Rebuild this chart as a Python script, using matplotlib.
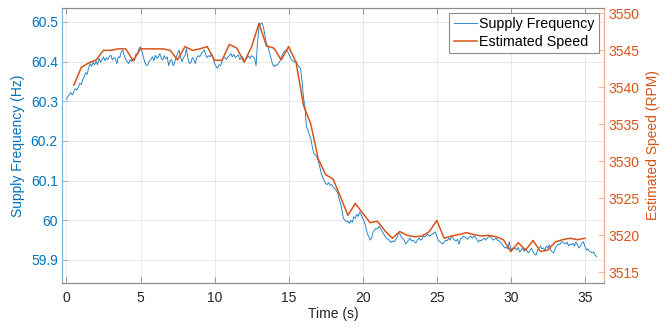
import numpy as np
import matplotlib.pyplot as plt

plt.rcParams['font.family'] = ['Liberation Sans', 'DejaVu Sans']

# supply frequency, sampled every 0.1 s from t = 0
freq = [
    60.305, 60.312, 60.318, 60.322, 60.316, 60.325, 60.332, 60.328, 60.336, 60.345,
    60.342, 60.355, 60.362, 60.372, 60.368, 60.385, 60.395, 60.388, 60.398, 60.392,
    60.401, 60.392, 60.408, 60.398, 60.405, 60.412, 60.402, 60.410, 60.405, 60.413,
    60.416, 60.404, 60.410, 60.408, 60.395, 60.412, 60.410, 60.424, 60.429, 60.415,
    60.406, 60.400, 60.395, 60.405, 60.400, 60.408, 60.403, 60.420, 60.418, 60.433,
    60.437, 60.425, 60.410, 60.397, 60.390, 60.392, 60.402, 60.405, 60.412, 60.402,
    60.416, 60.408, 60.412, 60.420, 60.408, 60.404, 60.415, 60.407, 60.412, 60.390,
    60.402, 60.405, 60.390, 60.398, 60.410, 60.420, 60.429, 60.412, 60.400, 60.410,
    60.415, 60.433, 60.408, 60.395, 60.398, 60.410, 60.405, 60.395, 60.410, 60.415,
    60.412, 60.420, 60.424, 60.430, 60.418, 60.410, 60.415, 60.412, 60.420, 60.408,
    60.395, 60.388, 60.383, 60.392, 60.390, 60.400, 60.412, 60.410, 60.405, 60.412,
    60.415, 60.420, 60.412, 60.418, 60.410, 60.414, 60.416, 60.405, 60.410, 60.412,
    60.400, 60.405, 60.410, 60.414, 60.408, 60.415, 60.412, 60.408, 60.390, 60.450,
    60.487, 60.495, 60.497, 60.487, 60.466, 60.445, 60.438, 60.424, 60.410, 60.395,
    60.387, 60.392, 60.390, 60.395, 60.400, 60.410, 60.420, 60.425, 60.429, 60.427,
    60.420, 60.412, 60.404, 60.402, 60.398, 60.400, 60.392, 60.387, 60.383, 60.353,
    60.310, 60.286, 60.236, 60.227, 60.215, 60.205, 60.185, 60.168, 60.165, 60.160,
    60.150, 60.135, 60.118, 60.108, 60.100, 60.093, 60.090, 60.095, 60.088, 60.090,
    60.084, 60.080, 60.076, 60.070, 60.055, 60.043, 60.025, 60.005, 60.000, 59.996,
    59.998, 59.992, 60.000, 59.995, 60.009, 60.005, 60.015, 60.010, 60.021, 60.015,
    60.005, 59.996, 59.985, 59.967, 59.960, 59.950, 59.955, 59.970, 59.975, 59.980,
    59.978, 59.985, 59.980, 59.972, 59.967, 59.960, 59.955, 59.952, 59.950, 59.944,
    59.948, 59.945, 59.950, 59.955, 59.965, 59.967, 59.958, 59.955, 59.950, 59.940,
    59.945, 59.950, 59.955, 59.948, 59.950, 59.945, 59.944, 59.950, 59.955, 59.950,
    59.952, 59.960, 59.958, 59.962, 59.965, 59.960, 59.962, 59.965, 59.968, 59.971,
    59.960, 59.950, 59.946, 59.944, 59.940, 59.945, 59.950, 59.948, 59.955, 59.950,
    59.960, 59.955, 59.950, 59.948, 59.952, 59.940, 59.954, 59.955, 59.960, 59.958,
    59.955, 59.952, 59.958, 59.960, 59.955, 59.960, 59.958, 59.952, 59.945, 59.950,
    59.948, 59.952, 59.955, 59.950, 59.955, 59.958, 59.960, 59.955, 59.950, 59.952,
    59.955, 59.950, 59.948, 59.945, 59.940, 59.935, 59.930, 59.932, 59.928, 59.946,
    59.925, 59.930, 59.928, 59.930, 59.925, 59.932, 59.920, 59.925, 59.930, 59.922,
    59.928, 59.922, 59.918, 59.925, 59.930, 59.920, 59.915, 59.912, 59.925, 59.930,
    59.935, 59.928, 59.930, 59.925, 59.935, 59.930, 59.938, 59.925, 59.920, 59.918,
    59.930, 59.935, 59.940, 59.938, 59.945, 59.946, 59.942, 59.940, 59.945, 59.935,
    59.940, 59.938, 59.942, 59.935, 59.945, 59.938, 59.930, 59.935, 59.942, 59.946,
    59.935, 59.925, 59.928, 59.922, 59.920, 59.918, 59.920, 59.912, 59.908,
]
t_freq = np.arange(len(freq)) * 0.1

# estimated speed, every 0.5 s from t = 0.5
speed = [
    3540.3, 3542.7, 3543.3, 3543.7, 3545.0, 3545.0, 3545.2, 3545.2, 3543.6, 3545.2,
    3545.2, 3545.2, 3545.2, 3545.0, 3543.7, 3545.5, 3545.0, 3545.2, 3545.5, 3543.65,
    3543.65, 3545.8, 3545.3, 3543.4, 3545.5, 3548.65, 3545.6, 3545.3, 3543.7, 3545.5,
    3543.4, 3537.6, 3535.0, 3530.3, 3528.2, 3527.6, 3525.2, 3522.7, 3524.3, 3523.0,
    3521.7, 3521.9, 3520.6, 3519.6, 3520.5, 3520.0, 3519.8, 3519.9, 3520.5, 3522.0,
    3519.6, 3519.9, 3520.1, 3520.35, 3520.1, 3519.9, 3520.0, 3519.8, 3519.4, 3517.8,
    3519.0, 3518.0, 3519.3, 3517.8, 3518.0, 3519.1, 3519.4, 3519.6, 3519.4, 3519.6,
]
t_speed = 0.5 + np.arange(len(speed)) * 0.5

blue = '#0072BD'
orange = '#D95319'
axcol = '#8c8c8c'

fig = plt.figure(figsize=(6.72, 3.27), dpi=100)
ax1 = fig.add_axes([0.0923, 0.1346, 0.8067, 0.8409])
ax2 = ax1.twinx()

l1, = ax1.plot(t_freq, freq, color='#1f80c4', lw=0.65, label='Supply Frequency')
l2, = ax2.plot(t_speed, speed, color=orange, lw=1.1, label='Estimated Speed')

ax1.set_xlim(-0.3, 36.3)
ax1.set_ylim(59.842, 60.535)
ax2.set_ylim(3513.55, 3550.72)
ax1.set_xticks(np.arange(0, 36, 5))
ax1.set_yticks([59.9, 60, 60.1, 60.2, 60.3, 60.4, 60.5])
ax1.set_yticklabels(['59.9', '60', '60.1', '60.2', '60.3', '60.4', '60.5'])
ax2.set_yticks(np.arange(3515, 3551, 5))

ax1.grid(True, color='#e8e8e8', lw=0.7)
ax1.set_axisbelow(True)

ax1.tick_params(axis='x', direction='in', length=4, width=0.6, color=axcol,
                labelcolor='#262626', labelsize=10, top=True, pad=6)
ax1.tick_params(axis='y', direction='in', length=4, width=0.6, color='#7fb4dc',
                labelcolor=blue, labelsize=10, pad=3)
ax2.tick_params(axis='y', direction='in', length=4, width=0.6, color='#ecaa8c',
                labelcolor=orange, labelsize=10, pad=3)

for ax in (ax1, ax2):
    ax.spines['top'].set_color(axcol)
    ax.spines['bottom'].set_color(axcol)
    ax.spines['left'].set_color('#7fb4dc')
    ax.spines['right'].set_color('#ecaa8c')
    for s in ax.spines.values():
        s.set_linewidth(0.8)

ax1.set_xlabel('Time (s)', fontsize=10, color='#262626', labelpad=1)
ax1.set_ylabel('Supply Frequency (Hz)', fontsize=10, color=blue, labelpad=4)
ax2.set_ylabel('Estimated Speed (RPM)', fontsize=10, color=orange, labelpad=5)

leg = ax2.legend(handles=[l1, l2], loc='upper right', fontsize=10.3, fancybox=False,
                 edgecolor=axcol, framealpha=1, borderaxespad=0.35,
                 handlelength=1.6, handletextpad=0.2, borderpad=0.3,
                 labelspacing=0.25)
leg.get_frame().set_linewidth(0.8)

fig.savefig('out.png', dpi=100)
